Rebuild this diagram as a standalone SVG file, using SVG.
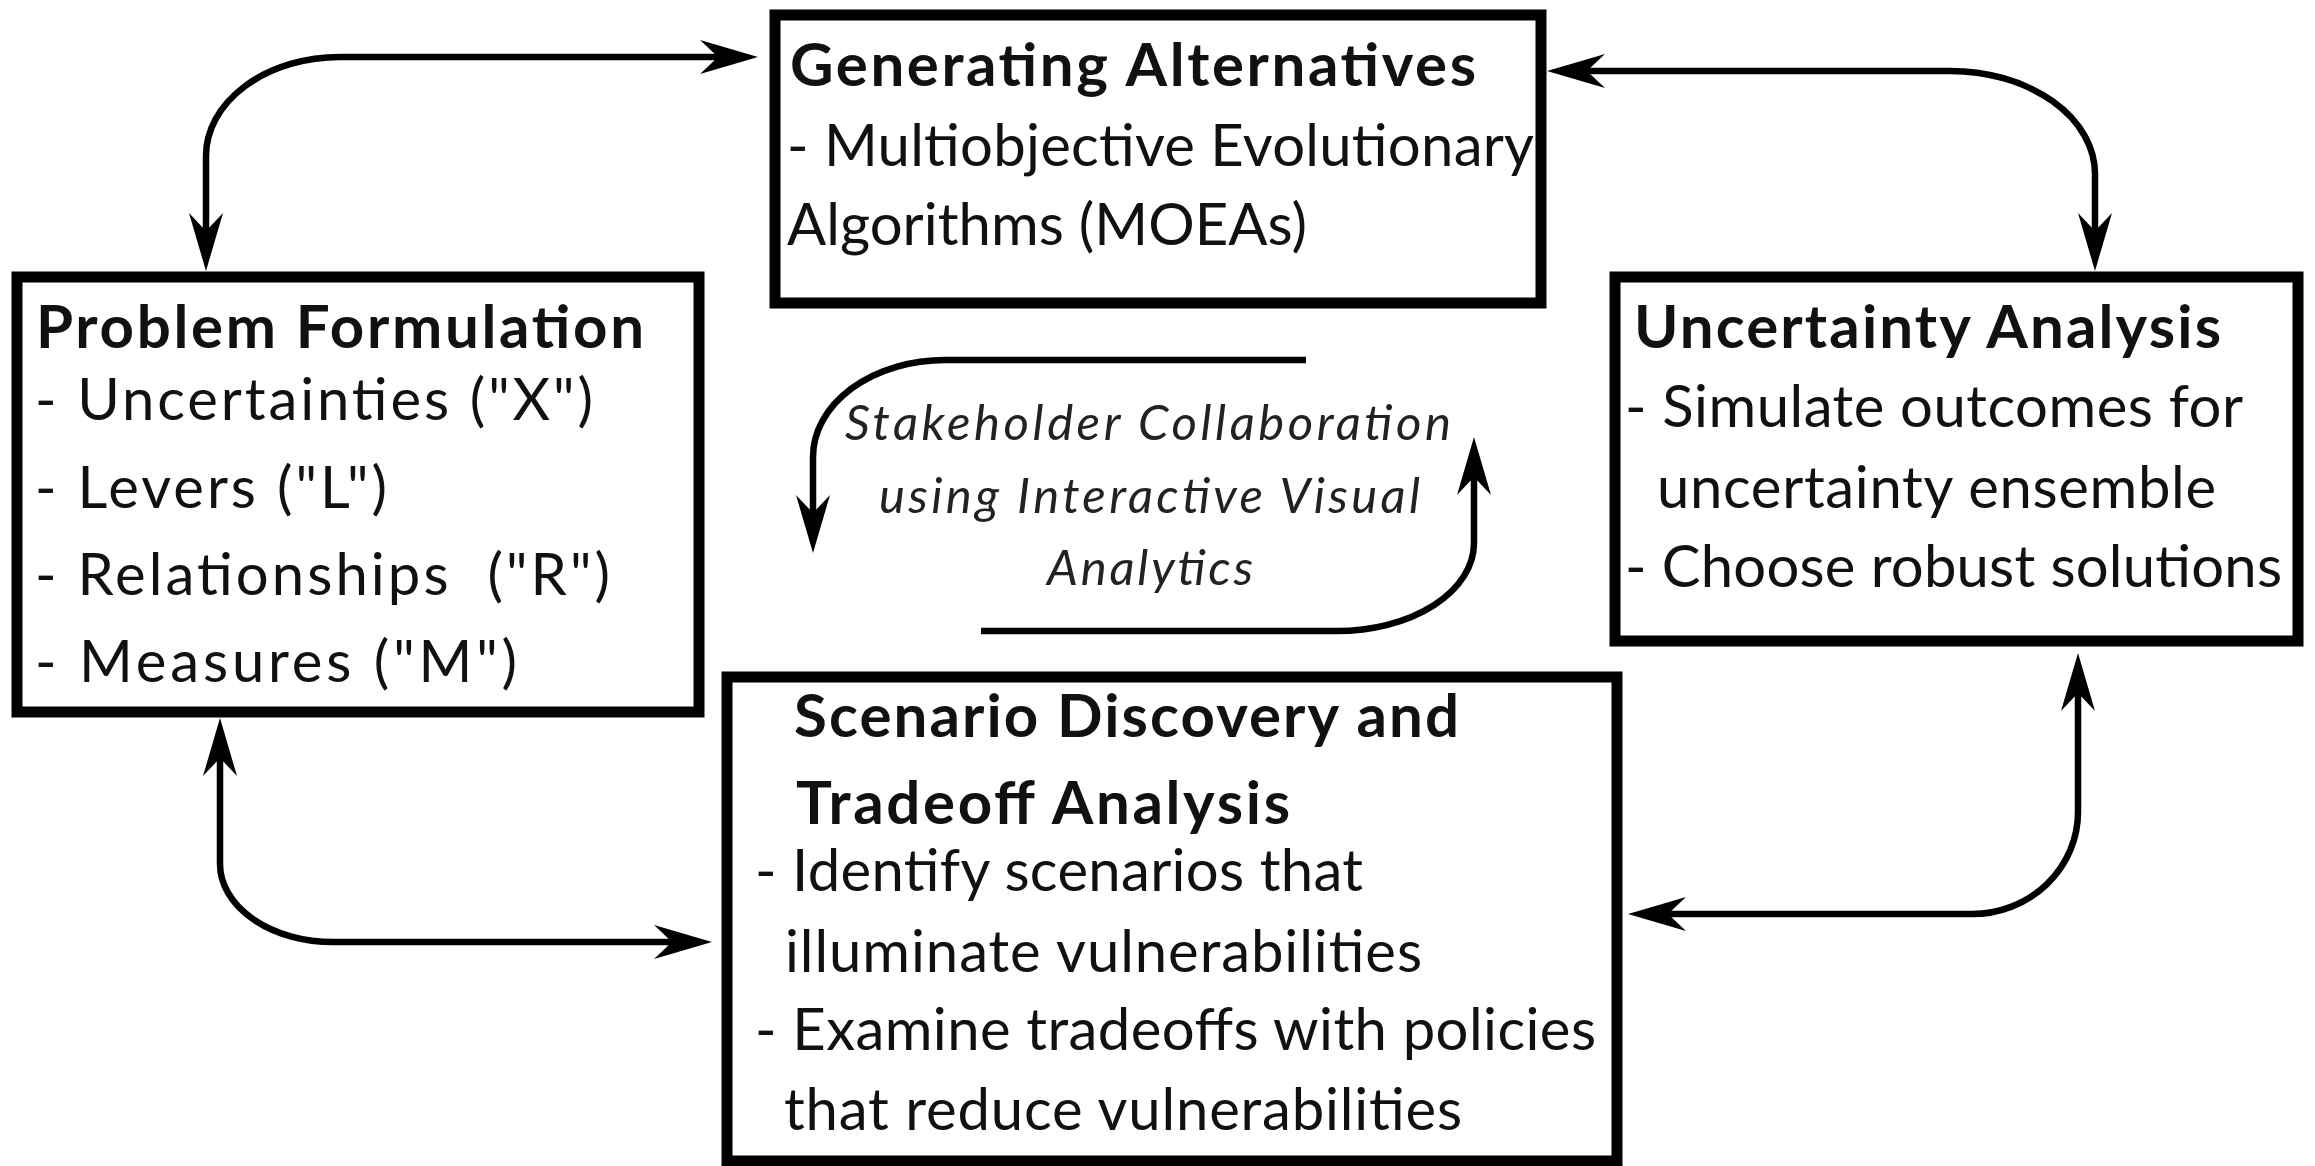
<svg xmlns="http://www.w3.org/2000/svg" width="2315" height="1166" viewBox="0 0 2315 1166">
  <style>
    .box { fill: #ffffff; stroke: #000000; stroke-width: 11; }
    .title { font-family: "Lato", "Open Sans", "Liberation Sans", sans-serif; font-weight: bold; font-size: 60px; fill: #111111; }
    .body { font-family: "Lato", "Open Sans", "Liberation Sans", sans-serif; font-size: 58px; fill: #111111; }
    .note { font-family: "Lato", "Open Sans", "Liberation Sans", sans-serif; font-style: italic; font-size: 49px; fill: #222222; }
    .link { fill: none; stroke: #000000; stroke-width: 6.5; }
  </style>
  <defs>
    <!-- notched arrowhead; the line stops 20px short of the tip -->
    <marker id="head" viewBox="-40 -20 62 40" refX="0" refY="0" markerWidth="62" markerHeight="40" markerUnits="userSpaceOnUse" orient="auto-start-reverse">
      <path d="M 20 0 L -38 -17 L -20 0 L -38 17 Z" fill="#000000"/>
    </marker>
  </defs>

  <rect width="2315" height="1166" fill="#ffffff"/>

  <!-- connectors -->
  <g id="connectors">
    <path class="link" d="M 206 251 L 206 156 A 134 99 0 0 1 340 57 L 738 57" marker-start="url(#head)" marker-end="url(#head)"/>
    <path class="link" d="M 1567 71 L 1950 71 A 145 103 0 0 1 2095 174 L 2095 251" marker-start="url(#head)" marker-end="url(#head)"/>
    <path class="link" d="M 220 738 L 220 864 A 113 78 0 0 0 333 942 L 692 942" marker-start="url(#head)" marker-end="url(#head)"/>
    <path class="link" d="M 2078 673 L 2078 812 A 106 102 0 0 1 1972 914 L 1648 914" marker-start="url(#head)" marker-end="url(#head)"/>
    <path class="link" d="M 1306 360 L 945 360 A 132 97 0 0 0 813 457 L 813 533" marker-end="url(#head)"/>
    <path class="link" d="M 981 631 L 1337 631 A 137 88 0 0 0 1474 543 L 1474 457" marker-end="url(#head)"/>
  </g>

  <!-- Generating Alternatives -->
  <g id="generating-alternatives">
    <rect class="box" x="775" y="15" width="766" height="288"/>
    <text class="title" x="790" y="86" textLength="686">Generating Alternatives</text>
    <text class="body" x="787" y="166" textLength="747">- Multiobjective Evolutionary</text>
    <text class="body" x="787" y="245" textLength="520">Algorithms (MOEAs)</text>
  </g>

  <!-- Problem Formulation -->
  <g id="problem-formulation">
    <rect class="box" x="17" y="277" width="682" height="435"/>
    <text class="title" x="36" y="348" textLength="608">Problem Formulation</text>
    <text class="body" x="35" y="420" textLength="558">- Uncertainties ("X")</text>
    <text class="body" x="35" y="508" textLength="352">- Levers ("L")</text>
    <text class="body" x="35" y="595" textLength="575" xml:space="preserve">- Relationships  ("R")</text>
    <text class="body" x="35" y="682" textLength="482">- Measures ("M")</text>
  </g>

  <!-- Uncertainty Analysis -->
  <g id="uncertainty-analysis">
    <rect class="box" x="1615" y="277" width="683" height="364"/>
    <text class="title" x="1634" y="348" textLength="587">Uncertainty Analysis</text>
    <text class="body" x="1625" y="427" textLength="618">- Simulate outcomes for</text>
    <text class="body" x="1657" y="508" textLength="559">uncertainty ensemble</text>
    <text class="body" x="1625" y="587" textLength="657">- Choose robust solutions</text>
  </g>

  <!-- Scenario Discovery and Tradeoff Analysis -->
  <g id="scenario-discovery">
    <rect class="box" x="727" y="677" width="890" height="484"/>
    <text class="title" x="794" y="737" textLength="665">Scenario Discovery and</text>
    <text class="title" x="796" y="824" textLength="494">Tradeoff Analysis</text>
    <text class="body" x="755" y="891" textLength="608">- Identify scenarios that</text>
    <text class="body" x="785" y="972" textLength="637">illuminate vulnerabilities</text>
    <text class="body" x="755" y="1050" textLength="841">- Examine tradeoffs with policies</text>
    <text class="body" x="784" y="1130" textLength="678">that reduce vulnerabilities</text>
  </g>

  <!-- Stakeholder collaboration loop label -->
  <g id="stakeholder-collaboration">
    <text class="note" x="845" y="440" textLength="606">Stakeholder Collaboration</text>
    <text class="note" x="879" y="513" textLength="541">using Interactive Visual</text>
    <text class="note" x="1047" y="585" textLength="206">Analytics</text>
  </g>
</svg>
